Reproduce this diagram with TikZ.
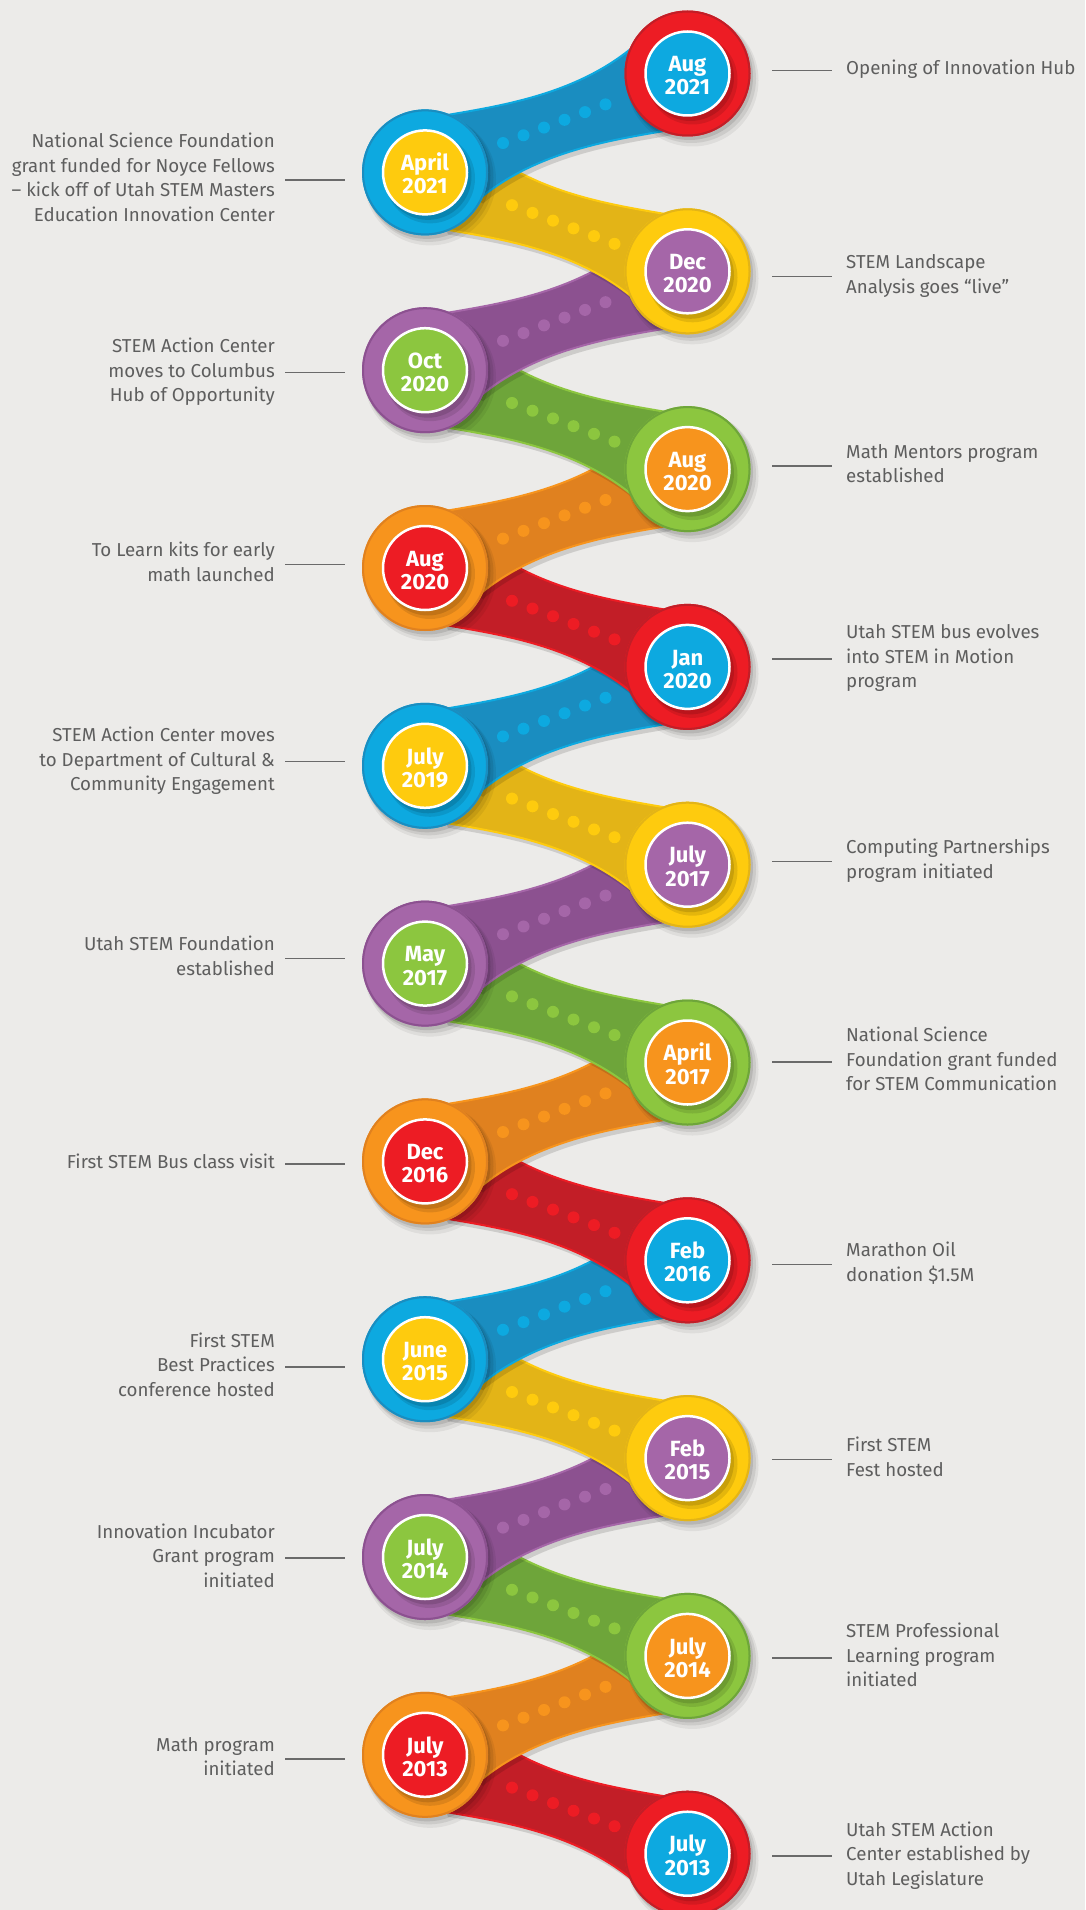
\documentclass[tikz,border=0pt]{standalone}
\usepackage{fontspec}
\setmainfont{Fira Sans}
\definecolor{bg}{HTML}{ECEBE9}
\definecolor{labelgray}{HTML}{5E5E5E}
\definecolor{linegray}{HTML}{6A6A6A}
\definecolor{cRed}{HTML}{ED1C24}
\definecolor{cRedD}{HTML}{C21E27}
\definecolor{cBlue}{HTML}{0DA9E0}
\definecolor{cBlueD}{HTML}{1A8DC0}
\definecolor{cYellow}{HTML}{FECB0E}
\definecolor{cYellowD}{HTML}{E3B417}
\definecolor{cPurple}{HTML}{A566A8}
\definecolor{cPurpleD}{HTML}{8C5190}
\definecolor{cGreen}{HTML}{8CC63F}
\definecolor{cGreenD}{HTML}{6EA53A}
\definecolor{cOrange}{HTML}{F7941D}
\definecolor{cOrangeD}{HTML}{E0811F}
\tikzset{
  lbl/.style={text=labelgray, font=\fontsize{18.7}{24.5}\selectfont, inner sep=0pt},
  datetxt/.style={text=white, font=\fontsize{22}{23.3}\selectfont\bfseries, inner sep=0pt},
  conn/.style={draw=linegray, line width=1.5pt},
}
% band: #1 xL, #2 yL, #3 yscale (1 = rising to the right, -1 = falling), #4 colour, #5 first dot offset
\newcommand\band[5]{%
  \begin{scope}[shift={(#1+3,#2+5)}, yscale=#3]
    \fill[black, opacity=0.13] (20,-57) .. controls (75,-66.5) and (150,-77.5) .. (207.5,-125) -- (262.5,-99) -- (242.5,-42) .. controls (187.5,-32.5) and (112.5,-21.5) .. (55,26) -- (0,0) -- cycle;
  \end{scope}
  \begin{scope}[shift={(#1,#2)}, yscale=#3]
    \filldraw[fill=#4D, draw=#4, line width=2pt] (20,-57) .. controls (75,-66.5) and (150,-77.5) .. (207.5,-125) -- (262.5,-99) -- (242.5,-42) .. controls (187.5,-32.5) and (112.5,-21.5) .. (55,26) -- (0,0) -- cycle;
    \foreach \k in {0,...,5}{\fill[#4] ({#5+20.5*\k},{-(#5+20.5*\k)*0.3768}) circle[radius=6pt];}
  \end{scope}}
% stone: #1 name, #2 x, #3 y, #4 outer colour, #5 inner colour, #6 #7 text lines
\newcommand\stone[7]{%
  \fill[black,opacity=0.06] (#2+5,#3+7) circle[radius=66pt];
  \fill[black,opacity=0.08] (#2+4,#3+5) circle[radius=64.5pt];
  \fill[black,opacity=0.10] (#2+2,#3+3) circle[radius=63.5pt];
  \fill[#4] (#2,#3) circle[radius=63pt];
  \draw[#4D, line width=2pt] (#2,#3) circle[radius=62pt];
  \fill[black,opacity=0.10] (#2+5,#3+6) circle[radius=45pt];
  \fill[black,opacity=0.12] (#2+3,#3+4) circle[radius=43.5pt];
  \node[circle, fill=#5, draw=white, line width=2.5pt, minimum size=84pt, inner sep=0pt] (#1) at (#2,#3) {};
  \node[datetxt, anchor=base] (#1t) at (#2,#3-1.8) {\begin{tabular}[t]{@{}c@{}}#6\\#7\end{tabular}};}
\newcommand\leftlabel[4]{%
  \node[lbl, anchor=base east] (#1) at (275,{#2+4.5-(#3-1)*12.25}) {\begin{tabular}[t]{@{}r@{}}#4\end{tabular}};
  \coordinate (#1a) at (285,#2);
  \coordinate (#1b) at (345,#2);
  \draw[conn] (#1a) -- (#1b);}
\newcommand\rightlabel[4]{%
  \node[lbl, anchor=base west] (#1) at (846,{#2+4.5-(#3-1)*12.25}) {\begin{tabular}[t]{@{}l@{}}#4\end{tabular}};
  \coordinate (#1a) at (772,#2);
  \coordinate (#1b) at (832,#2);
  \draw[conn] (#1a) -- (#1b);}
\begin{document}
\begin{tikzpicture}[x=1pt,y=-1pt]
\useasboundingbox (0,0) rectangle (1085,1910);
\fill[bg] (0,0) rectangle (1085,1910);
% bands, bottom first so upper bands lie on top
\band{425}{1754.8}{-1}{cRed}{87}
\band{425}{1754.8}{1}{cOrange}{78}
\band{425}{1557}{-1}{cGreen}{87}
\band{425}{1557}{1}{cPurple}{78}
\band{425}{1359.2}{-1}{cYellow}{87}
\band{425}{1359.2}{1}{cBlue}{78}
\band{425}{1161.4}{-1}{cRed}{87}
\band{425}{1161.4}{1}{cOrange}{78}
\band{425}{963.6}{-1}{cGreen}{87}
\band{425}{963.6}{1}{cPurple}{78}
\band{425}{765.8}{-1}{cYellow}{87}
\band{425}{765.8}{1}{cBlue}{78}
\band{425}{568}{-1}{cRed}{87}
\band{425}{568}{1}{cOrange}{78}
\band{425}{370.2}{-1}{cGreen}{87}
\band{425}{370.2}{1}{cPurple}{78}
\band{425}{172.4}{-1}{cYellow}{87}
\band{425}{172.4}{1}{cBlue}{78}
% milestones
\stone{m0}{687.5}{73.5}{cRed}{cBlue}{Aug}{2021}
\stone{m1}{425}{172.4}{cBlue}{cYellow}{April}{2021}
\stone{m2}{687.5}{271.3}{cYellow}{cPurple}{Dec}{2020}
\stone{m3}{425}{370.2}{cPurple}{cGreen}{Oct}{2020}
\stone{m4}{687.5}{469.1}{cGreen}{cOrange}{Aug}{2020}
\stone{m5}{425}{568}{cOrange}{cRed}{Aug}{2020}
\stone{m6}{687.5}{666.9}{cRed}{cBlue}{Jan}{2020}
\stone{m7}{425}{765.8}{cBlue}{cYellow}{July}{2019}
\stone{m8}{687.5}{864.7}{cYellow}{cPurple}{July}{2017}
\stone{m9}{425}{963.6}{cPurple}{cGreen}{May}{2017}
\stone{m10}{687.5}{1062.5}{cGreen}{cOrange}{April}{2017}
\stone{m11}{425}{1161.4}{cOrange}{cRed}{Dec}{2016}
\stone{m12}{687.5}{1260.3}{cRed}{cBlue}{Feb}{2016}
\stone{m13}{425}{1359.2}{cBlue}{cYellow}{June}{2015}
\stone{m14}{687.5}{1458.1}{cYellow}{cPurple}{Feb}{2015}
\stone{m15}{425}{1557}{cPurple}{cGreen}{July}{2014}
\stone{m16}{687.5}{1655.9}{cGreen}{cOrange}{July}{2014}
\stone{m17}{425}{1754.8}{cOrange}{cRed}{July}{2013}
\stone{m18}{687.5}{1853.7}{cRed}{cBlue}{July}{2013}
% labels
\leftlabel{t1}{180}{4}{National Science Foundation\\grant funded for Noyce Fellows\\– kick off of Utah STEM Masters\\Education Innovation Center}
\leftlabel{t3}{372.6}{3}{STEM Action Center\\moves to Columbus\\Hub of Opportunity}
\leftlabel{t5}{564.5}{2}{To Learn kits for early\\math launched}
\leftlabel{t7}{761.7}{3}{STEM Action Center moves\\to Department of Cultural \&\\Community Engagement}
\leftlabel{t9}{958.3}{2}{Utah STEM Foundation\\established}
\leftlabel{t11}{1163.9}{1}{First STEM Bus class visit}
\leftlabel{t13}{1367}{3}{First STEM\\Best Practices\\conference hosted}
\leftlabel{t15}{1558.2}{3}{Innovation Incubator\\Grant program\\initiated}
\leftlabel{t17}{1758.8}{2}{Math program\\initiated}
\rightlabel{t0}{70.3}{1}{Opening of Innovation Hub}
\rightlabel{t2}{276.3}{2}{STEM Landscape\\Analysis goes “live”}
\rightlabel{t4}{465.8}{2}{Math Mentors program\\established}
\rightlabel{t6}{658.8}{3}{Utah STEM bus evolves\\into STEM in Motion\\program}
\rightlabel{t8}{861.4}{2}{Computing Partnerships\\program initiated}
\rightlabel{t10}{1061.9}{3}{National Science\\Foundation grant funded\\for STEM Communication}
\rightlabel{t12}{1264.4}{2}{Marathon Oil\\donation \$1.5M}
\rightlabel{t14}{1459.5}{2}{First STEM\\Fest hosted}
\rightlabel{t16}{1657.8}{3}{STEM Professional\\Learning program\\initiated}
\rightlabel{t18}{1856}{3}{Utah STEM Action\\Center established by\\Utah Legislature}
\end{tikzpicture}
\end{document}
